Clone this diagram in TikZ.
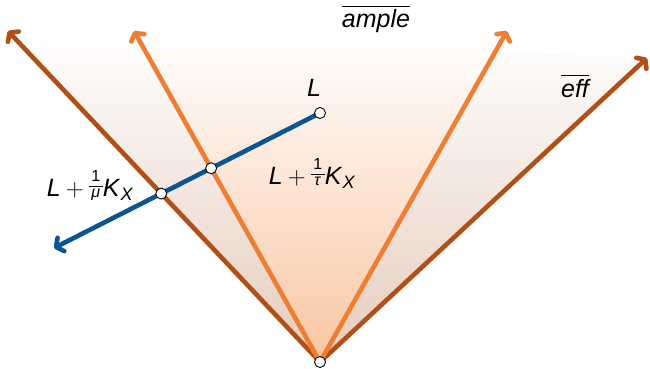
\documentclass[tikz,border=0pt]{standalone}
\usepackage{amsmath}
\usepackage{fontspec}
\setmainfont{Liberation Sans}
\usetikzlibrary{arrows.meta}
\definecolor{outerc}{HTML}{B24F17}
\definecolor{innerc}{HTML}{EF7D32}
\definecolor{bluec}{HTML}{0B5593}
\definecolor{outerfill}{HTML}{E6CCBC}
\definecolor{innerfill}{HTML}{F9C6A3}
\newcommand{\myfrac}[2]{\raisebox{6pt}{\fontsize{16}{16}\selectfont\renewcommand{\arraystretch}{1}\begin{tabular}[c]{@{\,}c@{\,}}#1\\\hline\textit{#2}\end{tabular}}}
\newcommand{\perturb}[1]{\textit{L}\hspace{5pt}$+$\hspace{5pt}\myfrac{1}{#1}\textit{K}\raisebox{-4pt}{\fontsize{18}{18}\selectfont\textit{X}}}
\tikzset{
  ray/.style={line width=4.6pt, line cap=round, -{Straight Barb[round,length=5.5pt,width=15pt]}},
  outerray/.style={ray, draw=outerc},
  innerray/.style={ray, draw=innerc},
  blueray/.style={ray, draw=bluec},
  pt/.style={circle, draw=black, fill=white, line width=0.9pt, inner sep=0pt, minimum size=11pt},
  lab/.style={font=\fontsize{25}{30}\selectfont, inner sep=0pt}
}
\begin{document}
\begin{tikzpicture}[x=1pt,y=-1pt]
\useasboundingbox (0,0) rectangle (650,368);
\coordinate (O) at (320,362);
\coordinate (T1) at (8,31);
\coordinate (T2) at (134,31);
\coordinate (T3) at (507,31);
\coordinate (T4) at (647,58);
\coordinate (Lp) at (320,113);
\coordinate (Bp) at (54,248);
% shaded regions
\shade[top color=white, bottom color=outerfill] (O) -- (T1) -- (T4) -- cycle;
\shade[top color=white, bottom color=innerfill] (O) -- (T2) -- (T3) -- cycle;
% rays
\draw[outerray] (O) -- (T1);
\draw[outerray] (O) -- (T4);
\draw[innerray] (O) -- (T2);
\draw[innerray] (O) -- (T3);
\draw[blueray] (Lp) -- (Bp);
% points
\node[pt] (nL) at (Lp) {};
\node[pt] (nO) at (O) {};
\node[pt] (nTau) at (intersection of Lp--Bp and O--T2) {};
\node[pt] (nMu) at (intersection of Lp--Bp and O--T1) {};
% labels
\node[lab] (labL) at (314,88) {\textit{L}};
\node[lab] (labTau) at (312,174) {\perturb{τ}};
\node[lab] (labMu) at (90,186) {\perturb{μ}};
\node[lab] (labAmple) at (376,19) {$\overline{\textit{ample}}$};
\node[lab] (labEff) at (575,86) {$\overline{\textit{eff}}$};
\end{tikzpicture}
\end{document}
